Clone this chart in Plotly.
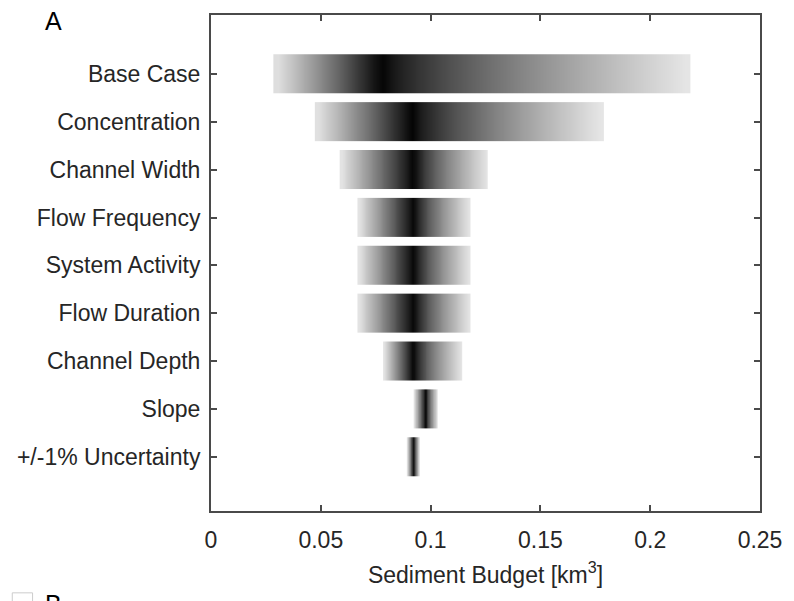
import plotly.graph_objects as go

categories = ["Base Case", "Concentration", "Channel Width", "Flow Frequency",
              "System Activity", "Flow Duration", "Channel Depth", "Slope",
              "+/-1% Uncertainty"]
low_vals = [0.0284, 0.0473, 0.0586, 0.0667, 0.0667, 0.0667, 0.0784, 0.0923, 0.0892]
peak_vals = [0.0775, 0.0914, 0.0923, 0.0923, 0.0923, 0.0923, 0.0919, 0.0977, 0.0923]
high_vals = [0.2185, 0.1788, 0.1261, 0.1180, 0.1180, 0.1180, 0.1144, 0.1032, 0.0950]
x_ticks = [0, 0.05, 0.1, 0.15, 0.2, 0.25]
x_tick_labels = ["0", "0.05", "0.1", "0.15", "0.2", "0.25"]

FONT = "Liberation Sans, Arial, sans-serif"
AXC = "#4a4a4a"
TXT = "#262626"
FS = 23
N_SEG = 40
HALF_H = 0.41

fig = go.Figure()
for i, (lo, pk, hi) in enumerate(zip(low_vals, peak_vals, high_vals)):
    pos = i + 1
    step = (hi - lo) / N_SEG
    edges = [lo + k * step for k in range(N_SEG + 1)]
    z = []
    for k in range(N_SEG):
        c = (edges[k] + edges[k + 1]) / 2
        if c <= pk:
            t = (pk - c) / (pk - lo) if pk > lo else 1.0
            t = t ** 0.9
        else:
            t = (c - pk) / (hi - pk) if hi > pk else 1.0
            t = t ** 0.7
        z.append(min(max(t, 0.0), 1.0))
    fig.add_trace(go.Heatmap(
        x=edges, y=[pos - HALF_H, pos + HALF_H], z=[z],
        zmin=0, zmax=1,
        colorscale=[[0, "rgb(0,0,0)"], [1, "rgb(232,232,232)"]],
        showscale=False, hoverinfo="skip", zsmooth="best",
    ))

fig.update_layout(
    width=794, height=601,
    margin=dict(l=211, r=28, t=15, b=90),
    paper_bgcolor="white", plot_bgcolor="white",
    font=dict(family=FONT, size=FS, color=TXT),
    showlegend=False,
)
fig.update_xaxes(
    range=[0, 0.25], tickvals=x_ticks, ticktext=x_tick_labels,
    showgrid=False, zeroline=False,
    showline=True, linecolor=AXC, linewidth=2, mirror="ticks",
    ticks="inside", ticklen=6, tickwidth=1.5, tickcolor=AXC,
    tickfont=dict(family=FONT, size=FS, color=TXT),
    ticklabelstandoff=7,
    title=dict(text="Sediment Budget [km<sup>3</sup>]", standoff=15,
               font=dict(family=FONT, size=FS, color=TXT)),
)
fig.update_yaxes(
    range=[10.13, -0.23], tickvals=list(range(1, len(categories) + 1)),
    ticktext=categories,
    showgrid=False, zeroline=False,
    showline=True, linecolor=AXC, linewidth=2, mirror="ticks",
    ticks="inside", ticklen=6, tickwidth=1.5, tickcolor=AXC,
    tickfont=dict(family=FONT, size=FS, color=TXT),
    ticklabelstandoff=4,
)
fig.add_annotation(text="A", xref="paper", yref="paper", x=-0.286, y=0.988,
                   xanchor="center", yanchor="middle", showarrow=False,
                   font=dict(family=FONT, size=25, color="black"))
fig.add_annotation(text="B", xref="paper", yref="paper", x=-0.2865, y=-0.156,
                   showarrow=False, font=dict(family=FONT, size=25, color="black"),
                   xanchor="center", yanchor="top")
fig.add_shape(type="rect", xref="paper", yref="paper",
              x0=-0.362, x1=-0.325, y0=-0.19, y1=-0.165,
              line=dict(color="#cccccc", width=1), fillcolor="rgba(0,0,0,0)")
fig.write_html("out.html")
